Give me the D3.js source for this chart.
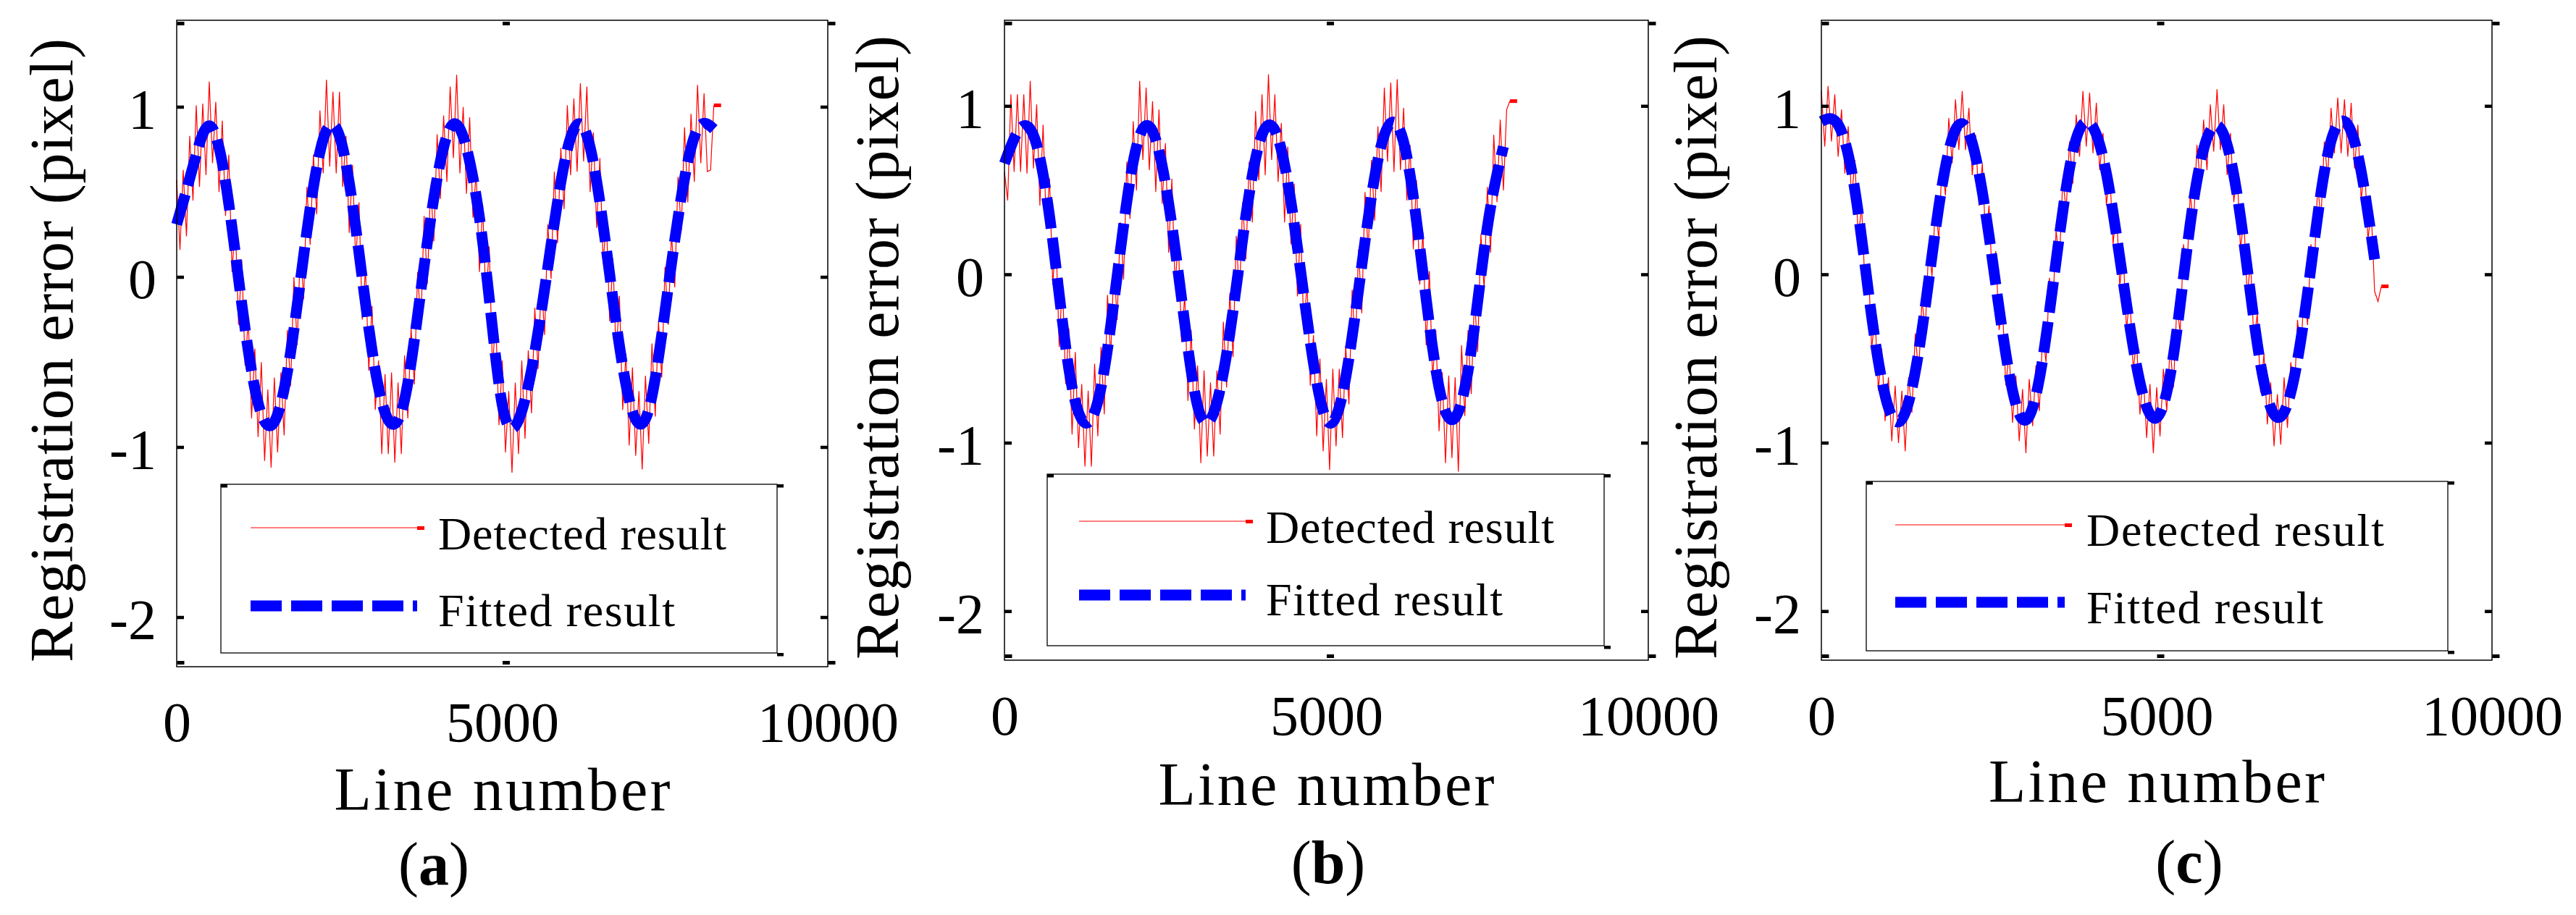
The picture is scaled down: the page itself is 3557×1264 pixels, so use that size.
<!DOCTYPE html>
<html>
<head>
<meta charset="utf-8">
<script src="https://cdn.jsdelivr.net/npm/d3@7"></script>
<style>
  body { margin: 0; background: #fff; }
  svg { display: block; font-family: "Liberation Serif", "Times New Roman", serif; }
</style>
</head>
<body>
<div id="chart"></div>
<script>
// ---- data ----
const xTicks = [0, 5000, 10000];
const yTicks = [-2, -1, 0, 1];
const xDomain = [0, 10000];
const yDomain = [-2.3, 1.5];

// fitted curve, one value every 250 lines
const fittedStep = 250;
const fittedA = [0.30, 0.64, 0.88, 0.55, -0.17, -0.75, -0.86, -0.45, 0.26, 0.80, 0.82, 0.28, -0.44, -0.85, -0.73, -0.09, 0.57,
  0.89, 0.67, 0.04, -0.76, -0.85, -0.45, 0.18, 0.74, 0.87, 0.43, -0.28, -0.80, -0.79, -0.21, 0.46, 0.86, 0.86];
const fittedB = [0.65, 0.86, 0.76, 0.19, -0.57, -0.89, -0.68, -0.02, 0.66, 0.87, 0.53, -0.15, -0.79, -0.83, -0.36, 0.34,
  0.82, 0.80, 0.29, -0.41, -0.87, -0.72, -0.10, 0.57, 0.89, 0.69, 0.00, -0.68, -0.86, -0.46, 0.27, 0.75];
const fittedC = [0.90, 0.88, 0.49, -0.26, -0.80, -0.83, -0.34, 0.39, 0.85, 0.77, 0.22, -0.48, -0.87, -0.63, 0.07, 0.72, 0.89,
  0.59, -0.05, -0.65, -0.86, -0.49, 0.29, 0.80, 0.82, 0.33, -0.42, -0.84, -0.71, -0.12, 0.60, 0.90, 0.70, 0.08];

// detected result, one value every 50 lines
const detectedStep = 50;
const detectedA = [
  0.56, 0.15, 0.62, 0.23, 0.82, 0.44, 1.00, 0.52, 1.01, 0.59,
  1.14, 0.66, 1.02, 0.49, 0.91, 0.35, 0.71, 0.02, 0.31, -0.29,
  0.09, -0.53, -0.26, -0.84, -0.43, -0.95, -0.51, -1.09, -0.67, -1.13,
  -0.60, -1.04, -0.57, -0.94, -0.32, -0.65, -0.01, -0.41, 0.17, -0.14,
  0.52, 0.18, 0.71, 0.36, 0.97, 0.60, 1.15, 0.64, 1.08, 0.60,
  1.08, 0.52, 0.82, 0.25, 0.65, 0.08, 0.43, -0.26, 0.04, -0.56,
  -0.18, -0.79, -0.50, -1.05, -0.58, -1.05, -0.57, -1.10, -0.63, -1.05,
  -0.47, -0.84, -0.31, -0.64, 0.02, -0.29, 0.35, -0.05, 0.53, 0.20,
  0.83, 0.45, 0.94, 0.55, 1.11, 0.69, 1.18, 0.60, 0.99, 0.48,
  0.93, 0.34, 0.61, 0.02, 0.41, -0.16, 0.17, -0.54, -0.26, -0.88,
  -0.50, -1.04, -0.68, -1.16, -0.63, -1.05, -0.50, -0.96, -0.44, -0.81,
  -0.19, -0.55, -0.02, -0.35, 0.30, -0.02, 0.61, 0.19, 0.75, 0.39,
  1.00, 0.59, 1.04, 0.61, 1.13, 0.67, 1.11, 0.49, 0.84, 0.28,
  0.69, 0.07, 0.33, -0.27, 0.10, -0.48, -0.12, -0.79, -0.46, -1.00,
  -0.54, -1.06, -0.68, -1.14, -0.59, -0.99, -0.40, -0.83, -0.27, -0.60,
  0.05, -0.29, 0.25, -0.07, 0.58, 0.26, 0.87, 0.43, 0.95, 0.55,
  1.12, 0.66, 1.07, 0.61, 0.62, 1.00];
const detectedB = [
  0.60, 0.43, 1.06, 0.60, 1.06, 0.60, 1.06, 0.59, 1.14, 0.62,
  1.00, 0.40, 0.88, 0.27, 0.56, -0.07, 0.21, -0.44, -0.04, -0.66,
  -0.33, -0.96, -0.47, -1.04, -0.66, -1.15, -0.70, -1.15, -0.54, -0.97,
  -0.44, -0.84, -0.13, -0.50, 0.06, -0.28, 0.30, -0.04, 0.66, 0.32,
  0.90, 0.49, 1.14, 0.67, 1.10, 0.61, 1.02, 0.48, 0.97, 0.41,
  0.77, 0.12, 0.56, -0.08, 0.20, -0.41, -0.13, -0.76, -0.34, -0.93,
  -0.55, -1.13, -0.58, -1.09, -0.65, -1.09, -0.58, -0.96, -0.29, -0.68,
  -0.12, -0.50, 0.22, -0.14, 0.42, 0.08, 0.66, 0.30, 0.96, 0.55,
  1.06, 0.58, 1.18, 0.67, 1.06, 0.54, 0.89, 0.30, 0.75, 0.17,
  0.53, -0.14, 0.29, -0.34, -0.06, -0.67, -0.37, -0.97, -0.51, -1.06,
  -0.63, -1.17, -0.57, -1.03, -0.57, -0.98, -0.43, -0.78, -0.10, -0.45,
  0.14, -0.24, 0.48, 0.12, 0.67, 0.31, 0.87, 0.48, 1.10, 0.66,
  1.13, 0.60, 1.15, 0.61, 0.98, 0.43, 0.76, 0.14, 0.55, -0.07,
  0.24, -0.43, 0.01, -0.63, -0.34, -0.94, -0.59, -1.13, -0.61, -1.10,
  -0.62, -1.18, -0.43, -0.85, -0.34, -0.72, -0.14, -0.47, 0.23, -0.10,
  0.51, 0.12, 0.82, 0.42, 0.91, 0.49, 0.97, 1.02];
const detectedC = [
  1.08, 0.75, 1.11, 0.78, 1.06, 0.69, 0.97, 0.59, 0.87, 0.44,
  0.67, 0.20, 0.40, -0.08, 0.05, -0.45, -0.26, -0.70, -0.45, -0.88,
  -0.62, -1.00, -0.67, -1.01, -0.70, -1.06, -0.62, -0.83, -0.36, -0.60,
  -0.16, -0.34, 0.16, -0.02, 0.41, 0.20, 0.66, 0.46, 0.92, 0.65,
  1.03, 0.73, 1.08, 0.73, 0.98, 0.58, 0.82, 0.40, 0.65, 0.19,
  0.40, -0.07, 0.13, -0.34, -0.19, -0.67, -0.47, -0.89, -0.61, -1.00,
  -0.69, -1.07, -0.63, -0.91, -0.55, -0.82, -0.36, -0.53, -0.03, -0.22,
  0.25, 0.07, 0.56, 0.37, 0.78, 0.53, 0.94, 0.69, 1.08, 0.75,
  1.07, 0.71, 1.01, 0.61, 0.83, 0.40, 0.61, 0.17, 0.39, -0.08,
  0.13, -0.34, -0.13, -0.58, -0.40, -0.84, -0.60, -0.98, -0.66, -1.07,
  -0.68, -0.97, -0.57, -0.82, -0.44, -0.68, -0.20, -0.35, 0.17, -0.01,
  0.47, 0.28, 0.76, 0.54, 0.91, 0.61, 1.00, 0.72, 1.09, 0.73,
  1.00, 0.58, 0.83, 0.42, 0.60, 0.14, 0.32, -0.14, 0.07, -0.42,
  -0.24, -0.71, -0.48, -0.90, -0.65, -1.03, -0.72, -1.02, -0.62, -0.92,
  -0.53, -0.75, -0.28, -0.49, -0.08, -0.31, 0.17, 0.01, 0.52, 0.32,
  0.78, 0.56, 0.98, 0.71, 1.04, 0.71, 1.03, 0.69, 1.01, 0.62,
  0.88, 0.43, 0.65, 0.20, 0.36, -0.11, -0.17, -0.08];

const legendLabels = ["Detected result", "Fitted result"];
const yLabel = "Registration error (pixel)";
const xLabel = "Line number";

// ---- layout of the three panels ----
const panels = [
  { name: "a", fitted: fittedA, detected: detectedA,
    left: 244, right: 1143, top: 28, bottom: 921, yLabelX: 100, yLabelY: 484, xLabelY: 1119, subX: 599, subY: 1222,
    leg: { left: 305, right: 1073, top: 669, bottom: 902, x0: 346, x1: 576, redY: 729, blueY: 837, textX: 605, t1Y: 759, t2Y: 865, t1W: 398, t2W: 327 } },
  { name: "b", fitted: fittedB, detected: detectedB,
    left: 1387, right: 2276, top: 28, bottom: 912, yLabelX: 1240, yLabelY: 480, xLabelY: 1112, subX: 1834, subY: 1220,
    leg: { left: 1446, right: 2215, top: 655, bottom: 892, x0: 1490, x1: 1720, redY: 720, blueY: 822, textX: 1748, t1Y: 750, t2Y: 850, t1W: 398, t2W: 327 } },
  { name: "c", fitted: fittedC, detected: detectedC,
    left: 2515, right: 3441, top: 28, bottom: 912, yLabelX: 2370, yLabelY: 480, xLabelY: 1108, subX: 3023, subY: 1219,
    leg: { left: 2577, right: 3380, top: 665, bottom: 899, x0: 2617, x1: 2851, redY: 725, blueY: 832, textX: 2881, t1Y: 754, t2Y: 861, t1W: 411, t2W: 327 } }
];

const svg = d3.select("#chart")
  .append("svg")
  .attr("width", 3557)
  .attr("height", 1264);

function styleTicks(axisG, w, shift) {
  axisG.select(".domain").remove();
  axisG.selectAll(".tick line")
    .attr("stroke", "#000")
    .attr("stroke-width", w)
    .attr("transform", shift);
  axisG.selectAll(".tick text")
    .attr("font-family", "Liberation Serif, Times New Roman, serif")
    .attr("font-size", 78)
    .attr("fill", "#000");
}

function drawPanel(p) {
  let x = d3.scaleLinear().domain(xDomain).range([p.left, p.right]);
  let y = d3.scaleLinear().domain(yDomain).range([p.bottom, p.top]);
  let g = svg.append("g");

  // detected result (thin red)
  g.append("path")
    .datum(p.detected)
    .attr("fill", "none")
    .attr("stroke", "#ff0000")
    .attr("stroke-width", 1.2)
    .attr("d", d3.line().x((d, i) => x(i * detectedStep)).y(d => y(d)));

  let last = p.detected.length - 1;
  g.append("rect")
    .attr("x", x(last * detectedStep))
    .attr("y", y(p.detected[last]) - 2.5)
    .attr("width", 10)
    .attr("height", 5)
    .attr("fill", "#ff0000");

  // fitted result (thick blue dashes)
  g.append("path")
    .datum(p.fitted)
    .attr("fill", "none")
    .attr("stroke", "#0000ff")
    .attr("stroke-width", 15)
    .attr("stroke-dasharray", "43,13")
    .attr("d", d3.line().curve(d3.curveNatural).x((d, i) => x(i * fittedStep)).y(d => y(d)));

  // frame
  g.append("rect")
    .attr("x", p.left)
    .attr("y", p.top)
    .attr("width", p.right - p.left)
    .attr("height", p.bottom - p.top)
    .attr("fill", "none")
    .attr("stroke", "#000")
    .attr("stroke-width", 1.5);

  // axes, ticks pointing inward
  let left = g.append("g")
    .attr("transform", `translate(${p.left},0)`)
    .call(d3.axisLeft(y).tickValues(yTicks).tickSize(-10).tickPadding(28).tickFormat(d => String(d)));
  styleTicks(left, 4.5, "translate(0,2)");
  left.selectAll(".tick text").attr("dy", "0.4em");

  let right = g.append("g")
    .attr("transform", `translate(${p.right},0)`)
    .call(d3.axisRight(y).tickValues(yTicks).tickSize(-10).tickFormat(""));
  styleTicks(right, 4.5, "translate(0,2)");

  let bottom = g.append("g")
    .attr("transform", `translate(0,${p.bottom})`)
    .call(d3.axisBottom(x).tickValues(xTicks).tickSize(-5).tickPadding(48).tickFormat(d => String(d)));
  styleTicks(bottom, 10, "translate(5,-3)");

  let top = g.append("g")
    .attr("transform", `translate(0,${p.top})`)
    .call(d3.axisTop(x).tickValues(xTicks).tickSize(-5).tickFormat(""));
  styleTicks(top, 10, "translate(5,2)");

  // axis titles
  g.append("text")
    .attr("transform", `translate(${p.yLabelX},${p.yLabelY})rotate(-90)`)
    .attr("text-anchor", "middle")
    .attr("font-size", 84)
    .attr("textLength", 862)
    .attr("lengthAdjust", "spacing")
    .text(yLabel);

  g.append("text")
    .attr("x", x(5000))
    .attr("y", p.xLabelY)
    .attr("text-anchor", "middle")
    .attr("font-size", 84)
    .attr("textLength", 464)
    .attr("lengthAdjust", "spacing")
    .text(xLabel);

  let sub = g.append("text")
    .attr("x", p.subX)
    .attr("y", p.subY)
    .attr("text-anchor", "middle")
    .attr("font-size", 84);
  sub.append("tspan").text("(");
  sub.append("tspan").attr("font-weight", "bold").text(p.name);
  sub.append("tspan").text(")");

  // legend
  let L = p.leg;
  let lg = g.append("g");
  lg.append("rect")
    .attr("x", L.left)
    .attr("y", L.top)
    .attr("width", L.right - L.left)
    .attr("height", L.bottom - L.top)
    .attr("fill", "#fff")
    .attr("stroke", "#000")
    .attr("stroke-width", 1.3);
  [[L.left, L.top], [L.right, L.top], [L.right, L.bottom]].forEach(c => {
    lg.append("rect").attr("x", c[0]).attr("y", c[1]).attr("width", 9).attr("height", 4.5).attr("fill", "#000");
  });

  lg.append("line")
    .attr("x1", L.x0).attr("x2", L.x1)
    .attr("y1", L.redY).attr("y2", L.redY)
    .attr("stroke", "#ff0000")
    .attr("stroke-width", 1.2);
  lg.append("rect")
    .attr("x", L.x1).attr("y", L.redY - 2)
    .attr("width", 10).attr("height", 5)
    .attr("fill", "#ff0000");

  lg.append("line")
    .attr("x1", L.x0).attr("x2", L.x1)
    .attr("y1", L.blueY).attr("y2", L.blueY)
    .attr("stroke", "#0000ff")
    .attr("stroke-width", 15)
    .attr("stroke-dasharray", "43,13");

  lg.append("text")
    .attr("x", L.textX).attr("y", L.t1Y)
    .attr("font-size", 64)
    .attr("textLength", L.t1W)
    .attr("lengthAdjust", "spacing")
    .text(legendLabels[0]);
  lg.append("text")
    .attr("x", L.textX).attr("y", L.t2Y)
    .attr("font-size", 64)
    .attr("textLength", L.t2W)
    .attr("lengthAdjust", "spacing")
    .text(legendLabels[1]);
}

panels.forEach(drawPanel);
</script>
</body>
</html>
